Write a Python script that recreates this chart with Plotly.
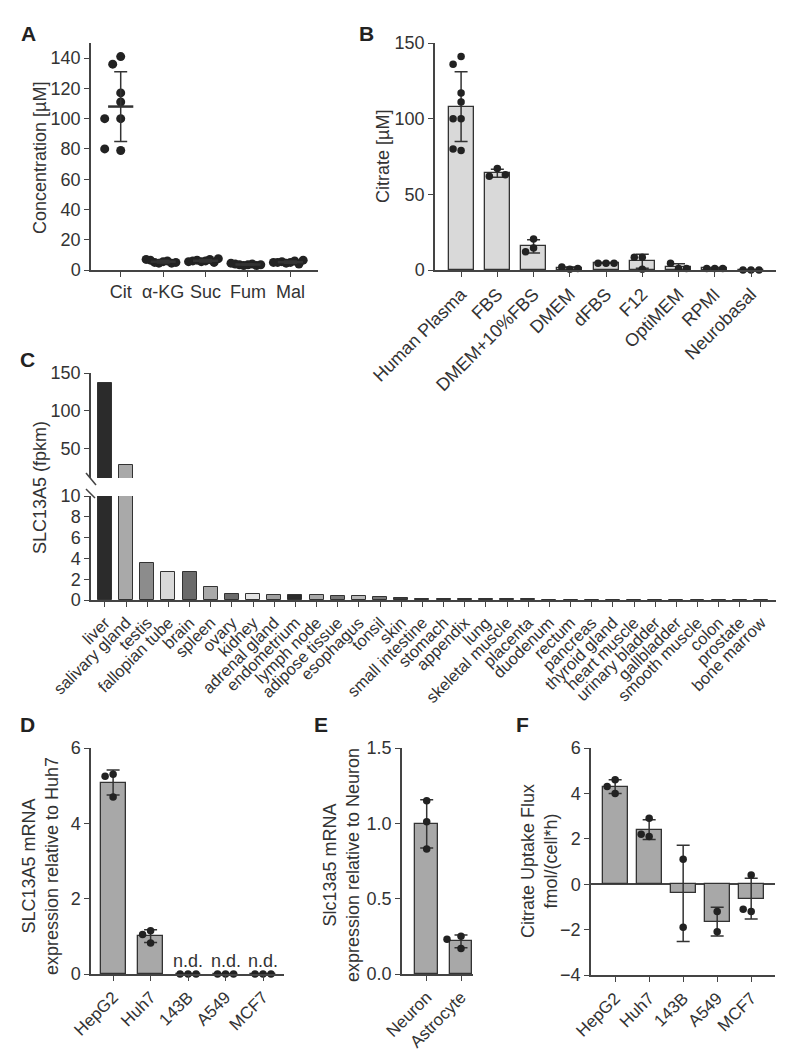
import numpy as np
import plotly.graph_objects as go

W, H = 786, 1050
FONT = "Liberation Sans, Arial, sans-serif"
TXT = "#333333"
LINE = "#444444"

# ---- data ----
metabolites = ["Cit", "α-KG", "Suc", "Fum", "Mal"]
cit = [141, 136, 111, 117, 100, 100, 79, 80]
akg = [5.5, 4.5, 6.0, 5.0, 4.5, 6.5, 5.0, 7.0]
suc = [6.0, 5.5, 7.0, 6.5, 5.0, 6.0, 7.5, 5.5]
fum = [3.5, 3.0, 4.0, 3.5, 3.0, 4.0, 3.5, 4.5]
mal = [5.0, 4.5, 6.0, 5.5, 4.0, 5.0, 6.5, 5.0]

media = ["Human Plasma", "FBS", "DMEM+10%FBS", "DMEM", "dFBS", "F12",
         "OptiMEM", "RPMI", "Neurobasal"]
fbs = [67, 62, 63]
dmem_fbs = [20.5, 14.5, 12]
dmem = [0.5, 2, 1]
dfbs = [4.5, 4.5, 4.5]
f12 = [0.5, 8.5, 8.5]
optimem = [1, 4.5, 1]
rpmi = [1, 1, 1]
neurobasal = [0, 0, 0]

tissues = ["liver", "salivary gland", "testis", "fallopian tube", "brain", "spleen",
           "ovary", "kidney", "adrenal gland", "endometrium", "lymph node",
           "adipose tissue", "esophagus", "tonsil", "skin", "small intestine",
           "stomach", "appendix", "lung", "skeletal muscle", "placenta", "duodenum",
           "rectum", "pancreas", "thyroid gland", "heart muscle", "urinary bladder",
           "gallbladder", "smooth muscle", "colon", "prostate", "bone marrow"]
fpkm = [137, 29, 3.55, 2.7, 2.65, 1.25, 0.6, 0.55, 0.5, 0.5, 0.45, 0.35, 0.35,
        0.25, 0.15, 0.12, 0.12, 0.12, 0.1, 0.1, 0.1, 0.03, 0.03, 0.02, 0.02,
        0.02, 0.02, 0.02, 0.01, 0.01, 0.01, 0.01]

cell_lines = ["HepG2", "Huh7", "143B", "A549", "MCF7"]
d_hepg2 = [5.3, 5.25, 4.7]
d_huh7 = [1.15, 1.05, 0.82]
d_143b = [0, 0, 0]
d_a549 = [0, 0, 0]
d_mcf7 = [0, 0, 0]
nd_lines = ["143B", "A549", "MCF7"]

cell_types = ["Neuron", "Astrocyte"]
e_neuron = [1.15, 1.01, 0.83]
e_astro = [0.25, 0.23, 0.17]

f_hepg2 = [4.6, 4.3, 4.0]
f_huh7 = [2.9, 2.1, 2.2]
f_143b = [1.1, -1.9]
f_a549 = [-1.2, -2.1]
f_mcf7 = [0.4, -1.2, -1.1]

# ---- styles ----
tissue_colors = ["#2b2b2b", "#a9a9a9", "#8c8c8c", "#d9d9d9", "#6b6b6b", "#a9a9a9",
                 "#6b6b6b", "#e3e3e3", "#a0a0a0", "#2b2b2b", "#a9a9a9", "#777777",
                 "#b8b8b8", "#777777", "#3a3a3a", "#555555", "#666666", "#777777",
                 "#888888", "#999999", "#aaaaaa"] + ["#888888"] * 11

# panel boxes in pixels: (left, right), (bottom, top)
geo = {
    "A": dict(px=(83, 310), py=(262, 35), xr=(-0.7, 4.65), yr=(0, 150)),
    "B": dict(px=(427, 768), py=(262, 35), xr=(-0.72, 8.69), yr=(0, 150)),
    "C": dict(px=(83, 768), py=(592, 488), xr=(-0.66, 31.71), yr=(0, 10)),
    "C2": dict(px=(83, 768), py=(470, 365), xr=(-0.66, 31.71), yr=(11.8, 150)),
    "D": dict(px=(83, 276), py=(966, 740), xr=(-0.59, 4.56), yr=(0, 6)),
    "E": dict(px=(394, 465), py=(966, 740), xr=(-0.72, 1.35), yr=(0, 1.5)),
    "F": dict(px=(583, 767), py=(967, 740), xr=(-0.71, 4.7), yr=(-4, 6)),
}


def ppu(g):
    sx = (g["px"][1] - g["px"][0]) / (g["xr"][1] - g["xr"][0])
    sy = (g["py"][0] - g["py"][1]) / (g["yr"][1] - g["yr"][0])
    return sx, sy


def swarm(vals, g, d=8.0, s=8.0, limit=None):
    sx, sy = ppu(g)
    placed, offs = [], []
    cands = [0.0]
    for i in range(1, 20):
        cands += [-i * s, i * s]
    for v in vals:
        y = v * sy
        for c in cands:
            if all((c - px) ** 2 + (y - py) ** 2 >= d * d - 1e-6 for px, py in placed):
                break
        placed.append((c, y))
        offs.append(c)
    m = max(abs(o) for o in offs)
    if limit and m > limit:
        offs = [o * limit / m for o in offs]
    return [o / sx for o in offs]


fig = go.Figure()
err_style = dict(type="data", color=TXT, thickness=1.5, width=6.5)


def dots(groups, g, xa, ya, size=7.5, d=8.0, s=8.0, limit=None):
    xs, ys = [], []
    for i, vals in enumerate(groups):
        offs = swarm(vals, g, d, s, limit)
        xs += [i + o for o in offs]
        ys += list(vals)
    fig.add_trace(go.Scatter(x=xs, y=ys, mode="markers", xaxis=xa, yaxis=ya,
                             marker=dict(color="#222222", size=size),
                             cliponaxis=False, showlegend=False))


def bars(groups, g, xa, ya, color, width):
    means = [float(np.mean(v)) for v in groups]
    sds = [float(np.std(v, ddof=1)) for v in groups]
    fig.add_trace(go.Bar(x=list(range(len(groups))), y=means, xaxis=xa, yaxis=ya,
                         width=width, marker=dict(color=color, line=dict(color="#333333", width=1.3)),
                         error_y=dict(array=sds, **err_style), showlegend=False))


# A: scatter with mean +- SD
groupsA = [cit, akg, suc, fum, mal]
dots(groupsA, geo["A"], "x", "y", size=9, d=9, s=8, limit=17)
fig.add_trace(go.Scatter(
    x=list(range(len(groupsA))), y=[float(np.mean(v)) for v in groupsA], mode="markers",
    xaxis="x", yaxis="y", cliponaxis=False, showlegend=False,
    marker=dict(symbol="line-ew", size=18, line=dict(color=TXT, width=2.5)),
    error_y=dict(array=[float(np.std(v, ddof=1)) for v in groupsA], **err_style)))

# B
groupsB = [cit, fbs, dmem_fbs, dmem, dfbs, f12, optimem, rpmi, neurobasal]
bars(groupsB, geo["B"], "x2", "y2", "#d9d9d9", 0.69)
dots(groupsB, geo["B"], "x2", "y2", size=7.5, d=8, s=8)

# C broken axis
for ya, xa in (("y3", "x3"), ("y4", "x4")):
    fig.add_trace(go.Bar(x=list(range(len(tissues))), y=fpkm, xaxis=xa, yaxis=ya, width=0.66,
                         marker=dict(color=tissue_colors, line=dict(color="#333333", width=1)),
                         showlegend=False))

# D
groupsD = [d_hepg2, d_huh7, d_143b, d_a549, d_mcf7]
bars(groupsD, geo["D"], "x5", "y5", "#a8a8a8", 0.67)
dots(groupsD, geo["D"], "x5", "y5", size=7.5, d=8, s=8)

# E
groupsE = [e_neuron, e_astro]
bars(groupsE, geo["E"], "x6", "y6", "#a8a8a8", 0.67)
dots(groupsE, geo["E"], "x6", "y6", size=7.5, d=8, s=7)

# F
groupsF = [f_hepg2, f_huh7, f_143b, f_a549, f_mcf7]
bars(groupsF, geo["F"], "x7", "y7", "#a8a8a8", 0.74)
dots(groupsF, geo["F"], "x7", "y7", size=7.5, d=8, s=8)

# ---- axes ----
FS = 18
base = dict(showline=True, linecolor=LINE, linewidth=1.5, ticks="outside", ticklen=5,
            tickwidth=1.3, tickcolor=LINE, showgrid=False, zeroline=False, automargin=False,
            tickfont=dict(size=FS, color=TXT, family=FONT))
small = dict(size=17, color=TXT, family=FONT)


def xdom(g):
    return [g["px"][0] / W, g["px"][1] / W]


def ydom(g):
    return [1 - g["py"][0] / H, 1 - g["py"][1] / H]


def xax(g, labels, anchor, angle=-45, **kw):
    d = dict(base, domain=xdom(g), range=list(g["xr"]), anchor=anchor,
             tickvals=list(range(len(labels))), ticktext=labels, tickangle=angle)
    d.update(kw)
    return d


def yax(g, anchor, tickvals, ticktext=None, **kw):
    d = dict(base, domain=ydom(g), range=list(g["yr"]), anchor=anchor, tickvals=tickvals)
    if ticktext:
        d["ticktext"] = ticktext
    d.update(kw)
    return d


fig.update_layout(
    xaxis=xax(geo["A"], metabolites, "y", angle=0),
    yaxis=yax(geo["A"], "x", list(range(0, 141, 20))),
    xaxis2=xax(geo["B"], media, "y2"),
    yaxis2=yax(geo["B"], "x2", [0, 50, 100, 150]),
    xaxis3=xax(geo["C"], tissues, "y3", tickfont=dict(small, size=16.5)),
    yaxis3=yax(geo["C"], "x3", [0, 2, 4, 6, 8, 10]),
    xaxis4=dict(domain=xdom(geo["C2"]), range=list(geo["C2"]["xr"]), anchor="y4",
                visible=False, matches="x3", automargin=False),
    yaxis4=yax(geo["C2"], "x4", [50, 100, 150]),
    xaxis5=xax(geo["D"], cell_lines, "y5", tickfont=small),
    yaxis5=yax(geo["D"], "x5", [0, 2, 4, 6]),
    xaxis6=xax(geo["E"], cell_types, "y6", tickfont=small),
    yaxis6=yax(geo["E"], "x6", [0, 0.5, 1.0, 1.5], ["0.0", "0.5", "1.0", "1.5"]),
    xaxis7=xax(geo["F"], cell_lines, "y7", tickfont=small),
    yaxis7=yax(geo["F"], "x7", [-4, -2, 0, 2, 4, 6], zeroline=True,
               zerolinecolor=LINE, zerolinewidth=1.5),
)

# ---- texts ----
ann = []


def txt(x, y, text, size=FS, angle=0, bold=False, xanchor="center", yanchor="middle"):
    t = f"<b>{text}</b>" if bold else text
    ann.append(dict(x=x / W, y=1 - y / H, xref="paper", yref="paper", text=t,
                    showarrow=False, textangle=angle, xanchor=xanchor, yanchor=yanchor,
                    font=dict(size=size, color="#222222" if bold else TXT, family=FONT)))


for letter, x, y in (("A", 11, 25), ("B", 349, 25), ("C", 10, 351),
                     ("D", 10, 716), ("E", 304, 716), ("F", 506, 716)):
    txt(x, y, letter, size=21, bold=True, xanchor="left")

txt(32, 150, "Concentration [µM]", angle=-90)
txt(375, 149, "Citrate [µM]", angle=-90)
txt(32, 480, "SLC13A5 (fpkm)", angle=-90)
txt(32, 858, "SLC13A5 mRNA<br>expression relative to Huh7", angle=-90)
txt(333, 857, "Slc13a5 mRNA<br>expression relative to Neuron", angle=-90)
txt(531, 853, "Citrate Uptake Flux<br>fmol/(cell*h)", angle=-90)

for name in nd_lines:
    ann.append(dict(x=cell_lines.index(name), y=0, xref="x5", yref="y5", text="n.d.",
                    showarrow=False, yanchor="bottom", yshift=1,
                    font=dict(size=FS, color=TXT, family=FONT)))

# axis break marks on panel C
shapes = []
for (x0, y0, x1, y1) in ((78, 465, 88, 477), (78, 481, 87, 490)):
    shapes.append(dict(type="line", xref="paper", yref="paper", x0=x0 / W, x1=x1 / W,
                       y0=1 - y0 / H, y1=1 - y1 / H, line=dict(color=LINE, width=1.5)))

fig.update_layout(
    width=W, height=H, margin=dict(l=0, r=0, t=0, b=0),
    paper_bgcolor="white", plot_bgcolor="white",
    font=dict(family=FONT, color=TXT, size=FS),
    annotations=ann, shapes=shapes, bargap=0,
)

fig.write_html("out.html")
